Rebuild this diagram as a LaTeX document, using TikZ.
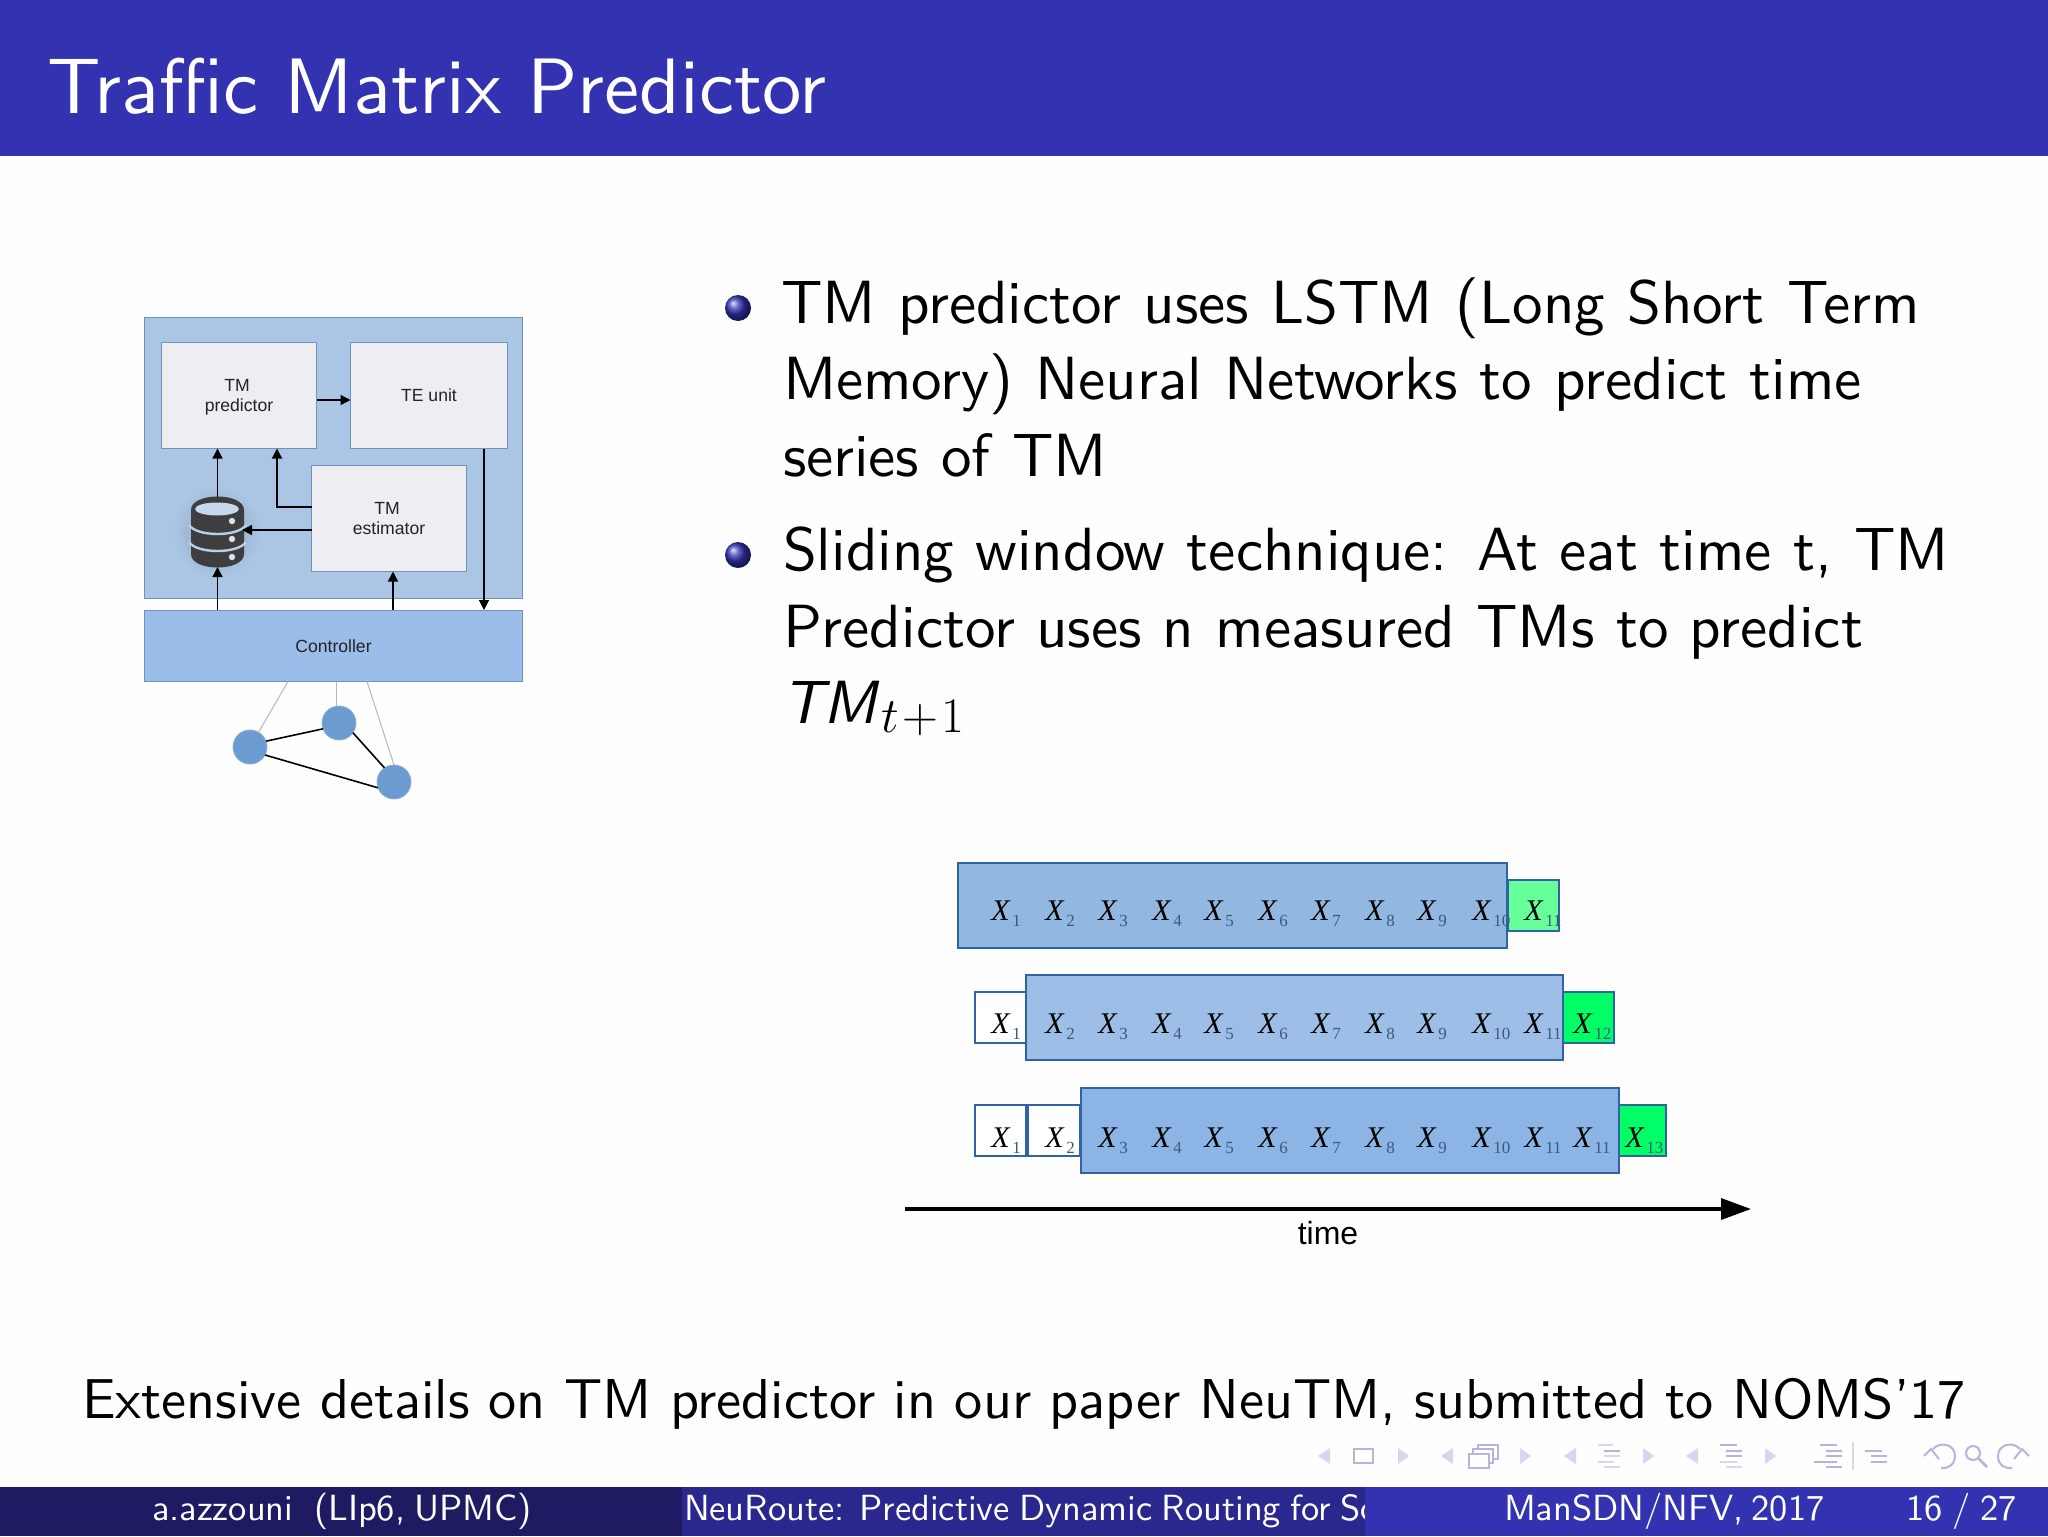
\documentclass[tikz,border=0pt]{standalone}
\usepackage{fontspec}
\usetikzlibrary{arrows.meta}
\newfontfamily\lsans{Liberation Sans}
\newfontfamily\lserif{Liberation Serif}
\newfontfamily\lmten[UprightFont=*10-regular,ItalicFont=*10-oblique,Extension=.otf]{lmsans}
\definecolor{hdr}{HTML}{3333B2}
\definecolor{ftl}{HTML}{1E1B63}
\definecolor{ftm}{HTML}{2A288F}
\definecolor{outerb}{HTML}{ABC6E4}
\definecolor{bord}{HTML}{6E93BE}
\definecolor{inner}{HTML}{EEEEF2}
\definecolor{ctrl}{HTML}{9ABDE9}
\definecolor{netn}{HTML}{6C9BCF}
\definecolor{dbdark}{HTML}{3E3E40}
\definecolor{rowb}{HTML}{2F63A5}
\definecolor{rowa}{HTML}{92B8E2}
\definecolor{rowc}{HTML}{9DBEE6}
\definecolor{rowd}{HTML}{8CB5E5}
\definecolor{greena}{HTML}{66FF99}
\definecolor{greenb}{HTML}{00FF66}
\definecolor{subc}{HTML}{3A5A80}
\definecolor{navs}{HTML}{B4B4E0}
\definecolor{navf}{HTML}{D6D6EE}
\definecolor{diatext}{HTML}{222228}
\newcommand{\bx}[7]{%
  \pgfmathsetmacro{\bw}{(#5-#3)/2}\pgfmathsetmacro{\bh}{(#6-#4)/2}%
  \pgfmathsetmacro{\bcx}{(#3+#5)/2}\pgfmathsetmacro{\bcy}{(#4+#6)/2}%
  \node[#1,minimum width=\bw pt,minimum height=\bh pt] (#2) at (\bcx,\bcy) {#7};}
\newcommand{\tl}[5]{\node[anchor=base west,inner sep=0pt,outer sep=0pt,#1] (#2) at (#3) {\hbox to #4pt{#5}};}
\newcommand{\xl}[4]{\node[anchor=base west,inner sep=0pt] (#1) at (#2,#3) {\fontsize{15}{15}\selectfont\lserif\itshape X\kern1.3pt\raisebox{-3.3pt}{\fontsize{8.5}{8.5}\selectfont\upshape\color{subc}#4}};}
\tikzset{
  dia/.style={draw=bord,line width=.5pt,inner sep=0pt,outer sep=0pt,align=center,text=diatext,font=\fontsize{8.8}{10}\selectfont\lsans},
  diain/.style={dia,fill=inner},
  rowbox/.style={draw=rowb,line width=.6pt,inner sep=0pt,outer sep=0pt},
  arr/.style={line width=.7pt,-{Triangle[length=5pt,width=5pt]}},
  body/.style={font=\fontsize{30.5}{36}\selectfont\lmten},
  foot/.style={text=white,font=\fontsize{18.2}{20}\selectfont\lmten},
  netnode/.style={circle,fill=netn,draw=netn!80!white,line width=.4pt,minimum size=17pt,inner sep=0pt,outer sep=0pt},
  navtri/.style={fill=navf},
  navln/.style={line width=1.2pt,draw=navs},
  navfa/.style={line width=1.2pt,draw=navf},
}
\begin{document}
\begin{tikzpicture}[x=.5pt,y=-.5pt]
\useasboundingbox (0,0) rectangle (2048,1536);
\fill[white!99.5!black] (0,0) rectangle (2048,1536);
% header
\fill[hdr] (0,0) rectangle (2048,156);
\tl{text=white,font=\fontsize{39.3}{48}\selectfont\lmten}{title}{47.5,113}{389.5}{Traffic Matrix Predictor}
% left diagram
\bx{dia,fill=outerb}{outer}{144.5}{317}{522.5}{598}{}
\shade[inner color=black!30!outerb,outer color=outerb,opacity=.6] (217,532) ellipse (44 and 46);
\bx{diain,text depth=-5pt}{pred}{161.5}{342.5}{316.5}{448.5}{TM\kern2pt\\predictor}
\bx{diain,text depth=-1pt}{teu}{350.5}{342.5}{507.5}{448.5}{TE unit}
\bx{diain,text depth=-3pt}{est}{311.5}{465.5}{466.5}{571.5}{TM\kern2pt\\estimator}
\bx{dia,fill=ctrl}{ctl}{144.5}{610}{522.5}{681.5}{Controller}
\bx{inner sep=0pt,outer sep=0pt}{db}{191}{497}{244}{567}{}
% database icon
\fill[dbdark] (191,510) -- (191,554) .. controls (191,572) and (244,572) .. (244,554) -- (244,510) .. controls (244,492) and (191,492) .. (191,510) -- cycle;
\fill[outerb!70!white] (217,509) ellipse (22 and 6.5);
\draw[outerb!85!white,line width=1.2pt] (189,525) .. controls (197,537) and (238,537) .. (246,525);
\draw[outerb!85!white,line width=1.2pt] (189,542) .. controls (197,554) and (238,554) .. (246,542);
\foreach \yy in {521,539,557} \fill[outerb!50!white] (232,\yy) circle (3.2);
% connectors
\coordinate (pe) at (277,448.5);
\coordinate (e1) at (311.5,507);
\coordinate (e2) at (311.5,530);
\coordinate (d2) at (242,530);
\coordinate (p1) at (316.5,400);
\coordinate (t1) at (350.5,400);
\coordinate (te) at (484,448.5);
\coordinate (ce) at (393,610);
\draw[arr] (db.north) -- (pred.south -| db.north);
\draw[arr] (e1) -| (pe);
\draw[arr] (e2) -- (d2);
\draw[arr] (p1) -- (t1);
\draw[arr] (te) -- (te |- ctl.north);
\draw[arr] (db.south |- ctl.north) -- (db.south);
\draw[arr] (ce) -- (ce |- est.south);
% network
\coordinate (g1) at (288,681.5);
\coordinate (g2) at (336,681.5);
\coordinate (g3) at (367,681.5);
\node[netnode] (n1) at (250,747) {};
\node[netnode] (n2) at (339,723) {};
\node[netnode] (n3) at (394,782) {};
\draw[black!28,line width=.5pt] (g1) -- (n1);
\draw[black!28,line width=.5pt] (g2) -- (g2 |- n2.north);
\draw[black!28,line width=.5pt] (g3) -- (n3.north);
\draw[line width=.8pt] (n1.20) -- (n2.200);
\draw[line width=.8pt] (n2.-35) -- (n3.124);
\draw[line width=.8pt] (n1.-28) -- (n3.200);
% bullets
\shade[ball color=hdr] (738,308) circle (13);
\shade[ball color=hdr] (738,555) circle (13);
\tl{body}{l1}{781,323}{569.5}{TM predictor uses LSTM (Long Short Term}
\tl{body}{l2}{783,399}{539.5}{Memory) Neural Networks to predict time}
\tl{body}{l3}{783,476}{162}{series of TM}
\tl{body}{l4}{783,570}{583}{Sliding window technique: At eat time t, TM}
\tl{body}{l5}{783,647}{540}{Predictor uses n measured TMs to predict}
\node[anchor=base west,inner sep=0pt,body] (l6) at (782,723) {\textit{TM}\kern.5pt\raisebox{-4.5pt}{\fontsize{24}{26}\selectfont$t\kern1.7pt{+}\kern1.7pt1$}};
% rows
\bx{rowbox,fill=rowa}{r1}{958}{863}{1507}{948}{}
\bx{rowbox,fill=greena}{g1b}{1508}{880}{1559}{931}{}
\bx{rowbox,fill=white}{w2a}{975}{992}{1026}{1043}{}
\bx{rowbox,fill=rowc}{r2}{1026}{975}{1563}{1060}{}
\bx{rowbox,fill=greenb}{g2b}{1563}{992}{1614}{1043}{}
\bx{rowbox,fill=white}{w3a}{975}{1105}{1026}{1156}{}
\bx{rowbox,fill=white}{w3b}{1028}{1105}{1080}{1156}{}
\bx{rowbox,fill=rowd}{r3}{1081}{1088}{1619}{1173}{}
\bx{rowbox,fill=greenb}{g3b}{1619}{1105}{1666}{1156}{}
\foreach \nn/\xp in {1/991,2/1045,3/1098,4/1152,5/1204,6/1258,7/1311,8/1365,9/1417,10/1472,11/1524}{
  \xl{xa\nn}{\xp}{920}{\nn}
  \xl{xb\nn}{\xp}{1033}{\nn}
  \xl{xc\nn}{\xp}{1147}{\nn}
}
\xl{xb12}{1573}{1033}{12}
\xl{xc12}{1573}{1147}{11}
\xl{xc13}{1625}{1147}{13}
% time
\coordinate (t0) at (905,1209);
\coordinate (t9) at (1751,1209);
\draw[line width=1.7pt,-{Triangle[length=15pt,width=10.5pt]}] (t0) -- (t9);
\node[anchor=base,inner sep=0pt,font=\fontsize{16}{18}\selectfont\lsans] (timel) at (1328,1244) {time};
% note
\tl{font=\fontsize{28.1}{34}\selectfont\lmten}{note}{82,1418}{942}{Extensive details on TM predictor in our paper NeuTM, submitted to NOMS’17}
% nav
\foreach \a/\b in {1318/1330,1441/1453,1564/1576,1686/1698}
  \fill[navtri] (\b,1448) -- (\a,1456) -- (\b,1464) -- cycle;
\foreach \a/\b in {1398/1409,1520/1531,1643/1654,1765/1776}
  \fill[navtri] (\a,1448) -- (\b,1456) -- (\a,1464) -- cycle;
\draw[navln] (1354,1449) rectangle (1373,1463);
\draw[navln] (1478,1445) rectangle (1498,1459);
\draw[navln,fill=white] (1473,1449) rectangle (1493,1463);
\draw[navln,fill=white] (1469,1454) rectangle (1489,1468);
\draw[navfa] (1598,1445) -- (1613,1445);
\draw[navln] (1604,1451) -- (1620,1451);
\draw[navfa] (1604,1456) -- (1620,1456);
\draw[navfa] (1598,1462) -- (1614,1462);
\draw[navfa] (1604,1467) -- (1620,1467);
\draw[navln] (1720,1445) -- (1737,1445);
\draw[navln] (1726,1451) -- (1742,1451);
\draw[navln] (1726,1456) -- (1742,1456);
\draw[navfa] (1720,1462) -- (1737,1462);
\draw[navfa] (1726,1467) -- (1742,1467);
\draw[navln] (1820,1445) -- (1837,1445);
\draw[navln] (1826,1451) -- (1842,1451);
\draw[navln] (1826,1456) -- (1842,1456);
\draw[navln] (1814,1462) -- (1837,1462);
\draw[navln] (1826,1467) -- (1842,1467);
\draw[navf,line width=1pt] (1853,1442) -- (1853,1470);
\draw[navln] (1865,1451) -- (1882,1451);
\draw[navln] (1871,1456) -- (1887,1456);
\draw[navln] (1871,1462) -- (1887,1462);
\draw[navln,line width=1pt] (1933,1449) .. controls (1940,1441) and (1955,1444) .. (1955,1456) .. controls (1955,1465) and (1947,1469) .. (1941,1468);
\draw[navln,line width=1pt] (1924,1456) -- (1931,1449) -- (1939,1459);
\draw[navln,line width=1pt] (1973,1453) circle (7);
\draw[navln,line width=1.3pt] (1978,1458) -- (1987,1467);
\draw[navln,line width=1pt] (2020,1449) .. controls (2013,1441) and (1998,1444) .. (1998,1456) .. controls (1998,1465) and (2005,1469) .. (2012,1468);
\draw[navln,line width=1pt] (2029,1456) -- (2022,1449) -- (2014,1459);
% footer
\fill[ftl] (0,1487) rectangle (682,1536);
\fill[ftm] (682,1487) rectangle (1365,1536);
\tl{foot}{fmid}{684,1520}{347.5}{NeuRoute: Predictive Dynamic Routing for So}
\fill[hdr] (1365,1487) rectangle (2048,1536);
\tl{foot}{fleft}{152,1520}{189}{a.azzouni\hspace{.35em} (LIp6, UPMC)}
\tl{foot}{fright}{1504,1520}{157.5}{ManSDN/NFV, 2017}
\tl{foot}{fpage}{1906,1520}{55.5}{16 / 27}
\end{tikzpicture}
\end{document}
